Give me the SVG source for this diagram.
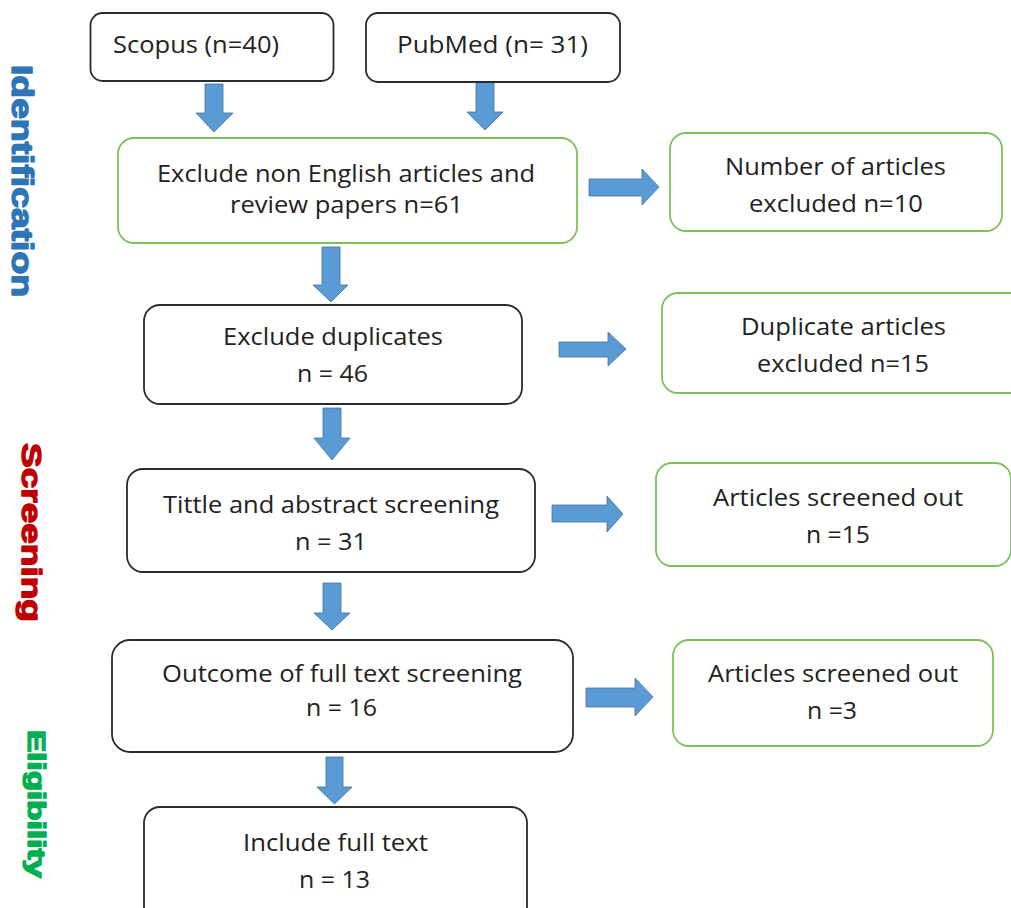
<svg xmlns="http://www.w3.org/2000/svg" width="1011" height="908" viewBox="0 0 1011 908">
<style>
.bk{fill:#fff;stroke:#2b2b2b;stroke-width:1.8}
.gr{fill:#fff;stroke:#7dbf5a;stroke-width:1.8}
.t{font-family:"Open Sans","Liberation Sans",sans-serif;font-size:23px;fill:#222}
.ar{fill:#5b9bd5;stroke:#41719c;stroke-width:0.8}
.lb{font-family:"Liberation Sans",Arial,sans-serif;font-weight:bold;stroke-width:1.4;stroke-linejoin:round}
</style>
<rect width="1011" height="908" fill="#fff"/>
<g id="labels">
<text class="lb" transform="translate(12,65) rotate(90)" font-size="29" fill="#2e75b6" stroke="#2e75b6" textLength="232" lengthAdjust="spacingAndGlyphs">Identification</text>
<text class="lb" transform="translate(22,443) rotate(90)" font-size="28" fill="#c00000" stroke="#c00000" textLength="179" lengthAdjust="spacingAndGlyphs">Screening</text>
<text class="lb" transform="translate(28,730) rotate(90)" font-size="24" fill="#00b050" stroke="#00b050" textLength="148" lengthAdjust="spacingAndGlyphs">Eligibility</text>
</g>
<g id="connectors">
<polygon class="ar" points="205,84 223,84 223,113 233,113 214,132 196,113 205,113"/>
<polygon class="ar" points="476,82 494,82 494,112 503,112 485,130 467,112 476,112"/>
<polygon class="ar" points="322,247 340,247 340,285 348,285 331,302 313,285 322,285"/>
<polygon class="ar" points="323,408 341,408 341,438 350,438 332,460 314,438 323,438"/>
<polygon class="ar" points="323,583 341,583 341,613 350,613 332,630 314,613 323,613"/>
<polygon class="ar" points="326,757 343,757 343,787 352,787 334.5,804 317,787 326,787"/>
<polygon class="ar" points="589,179 642,179 642,169 659,187 642,205 642,196 589,196"/>
<polygon class="ar" points="559,342 608,342 608,332 626,349 608,366 608,357 559,357"/>
<polygon class="ar" points="552,505 607,505 607,496 623,514 607,532 607,522 552,522"/>
<polygon class="ar" points="586,688 635,688 635,678 653,697 635,716 635,707 586,707"/>
</g>
<g id="scopus">
<rect class="bk" x="90.5" y="13" width="243" height="68" rx="12"/>
<text class="t" x="113" y="53" textLength="166" lengthAdjust="spacingAndGlyphs">Scopus (n=40)</text>
</g>
<g id="pubmed">
<rect class="bk" x="366" y="13" width="254" height="69" rx="12"/>
<text class="t" x="397" y="53" textLength="191" lengthAdjust="spacingAndGlyphs">PubMed (n= 31)</text>
</g>
<g id="exclude-non-english">
<rect class="gr" x="118" y="138" width="459" height="105" rx="16"/>
<text class="t" x="157" y="182" textLength="378" lengthAdjust="spacingAndGlyphs">Exclude non English articles and</text>
<text class="t" x="230" y="213" textLength="233" lengthAdjust="spacingAndGlyphs">review papers n=61</text>
</g>
<g id="excluded-10">
<rect class="gr" x="670" y="133" width="332" height="98" rx="16"/>
<text class="t" x="725" y="175" textLength="221" lengthAdjust="spacingAndGlyphs">Number of articles</text>
<text class="t" x="749" y="212" textLength="174" lengthAdjust="spacingAndGlyphs">excluded n=10</text>
</g>
<g id="exclude-duplicates">
<rect class="bk" x="144" y="305" width="378" height="99" rx="16"/>
<text class="t" x="223" y="345" textLength="220" lengthAdjust="spacingAndGlyphs">Exclude duplicates</text>
<text class="t" x="297" y="382" textLength="71" lengthAdjust="spacingAndGlyphs">n = 46</text>
</g>
<g id="duplicates-excluded">
<rect class="gr" x="662" y="293" width="370" height="100" rx="16"/>
<text class="t" x="741" y="335" textLength="205" lengthAdjust="spacingAndGlyphs">Duplicate articles</text>
<text class="t" x="757" y="372" textLength="172" lengthAdjust="spacingAndGlyphs">excluded n=15</text>
</g>
<g id="title-abstract">
<rect class="bk" x="127" y="469" width="408" height="103" rx="16"/>
<text class="t" x="163" y="513" textLength="336" lengthAdjust="spacingAndGlyphs">Tittle and abstract screening</text>
<text class="t" x="295" y="550" textLength="72" lengthAdjust="spacingAndGlyphs">n = 31</text>
</g>
<g id="screened-out-15">
<rect class="gr" x="656" y="463" width="355" height="103" rx="16"/>
<text class="t" x="713" y="506" textLength="250" lengthAdjust="spacingAndGlyphs">Articles screened out</text>
<text class="t" x="806" y="543" textLength="64" lengthAdjust="spacingAndGlyphs">n =15</text>
</g>
<g id="full-text">
<rect class="bk" x="112" y="640" width="461" height="112" rx="18"/>
<text class="t" x="162" y="682" textLength="360" lengthAdjust="spacingAndGlyphs">Outcome of full text screening</text>
<text class="t" x="306" y="716" textLength="71" lengthAdjust="spacingAndGlyphs">n = 16</text>
</g>
<g id="screened-out-3">
<rect class="gr" x="673" y="640" width="320" height="106" rx="16"/>
<text class="t" x="708" y="682" textLength="250" lengthAdjust="spacingAndGlyphs">Articles screened out</text>
<text class="t" x="807" y="719" textLength="50" lengthAdjust="spacingAndGlyphs">n =3</text>
</g>
<g id="include">
<rect class="bk" x="144" y="807" width="383" height="120" rx="16"/>
<text class="t" x="243" y="851" textLength="185" lengthAdjust="spacingAndGlyphs">Include full text</text>
<text class="t" x="299" y="888" textLength="71" lengthAdjust="spacingAndGlyphs">n = 13</text>
</g>
</svg>
